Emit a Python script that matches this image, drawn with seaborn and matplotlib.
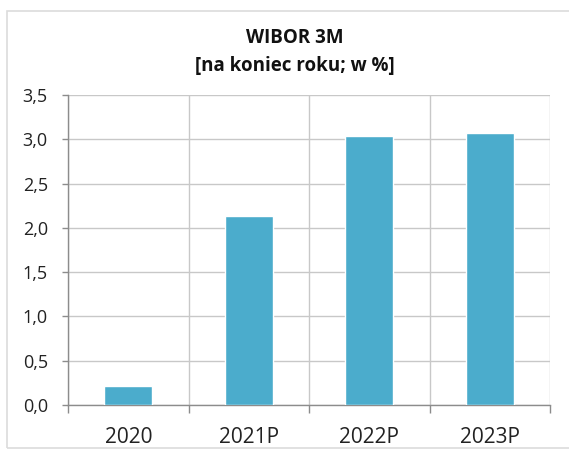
import matplotlib
matplotlib.use("Agg")
import matplotlib.pyplot as plt
import matplotlib.ticker as mticker
from matplotlib.patches import Rectangle
import seaborn as sns
import pandas as pd

categories = ["2020", "2021P", "2022P", "2023P"]
values = [0.21, 2.13, 3.04, 3.07]
title = "WIBOR 3M\n[na koniec roku; w %]"

sns.set_theme(style="white")
plt.rcParams['font.family'] = ['Open Sans', 'DejaVu Sans']

df = pd.DataFrame({"year": categories, "value": values})

fig = plt.figure(figsize=(5.69, 4.5), dpi=100)
ax = fig.add_axes([68/569, 45/450, (550-68)/569, (405-95)/450])

sns.barplot(data=df, x="year", y="value", color="#4BACCC", saturation=1,
            width=0.4, ax=ax, zorder=3)

ax.set_xlim(-0.5, len(categories) - 0.5)
ax.set_ylim(0, 3.5)
ax.set_yticks([i * 0.5 for i in range(8)])
ax.yaxis.set_major_formatter(mticker.FuncFormatter(lambda v, p: f"{v:.1f}".replace(".", ",")))
ax.set_xlabel("")
ax.set_ylabel("")

ax.set_xticks([i - 0.5 for i in range(len(categories) + 1)], minor=True)
ax.grid(True, axis="y", which="major", color="#c8c8c8", linewidth=1.0, zorder=0)
ax.grid(True, axis="x", which="minor", color="#c8c8c8", linewidth=1.0, zorder=0)
ax.grid(False, axis="x", which="major")

for s in ["top", "right"]:
    ax.spines[s].set_visible(False)
for s in ["left", "bottom"]:
    ax.spines[s].set_color("#8c8c8c")
    ax.spines[s].set_linewidth(1.0)

ax.tick_params(axis="x", which="major", length=0, labelsize=15, colors="#222222", pad=16)
ax.tick_params(axis="x", which="minor", length=6, width=1, color="#8c8c8c", direction="out", bottom=True)
ax.tick_params(axis="y", which="major", length=4.5, width=1, color="#8c8c8c", direction="out", left=True,
               labelsize=13, labelcolor="#222222", pad=10)

fig.text(295/569, 1 - 52/450, title, ha="center", va="center", fontsize=13.5,
         fontweight="bold", color="#111111", linespacing=1.55)

fig.patches.append(Rectangle((7/569, 2/450), 1.0, 1 - 13/450, transform=fig.transFigure,
                             fill=False, edgecolor="#dcdcdc", linewidth=1.2))

fig.savefig("out.png", dpi=100)
